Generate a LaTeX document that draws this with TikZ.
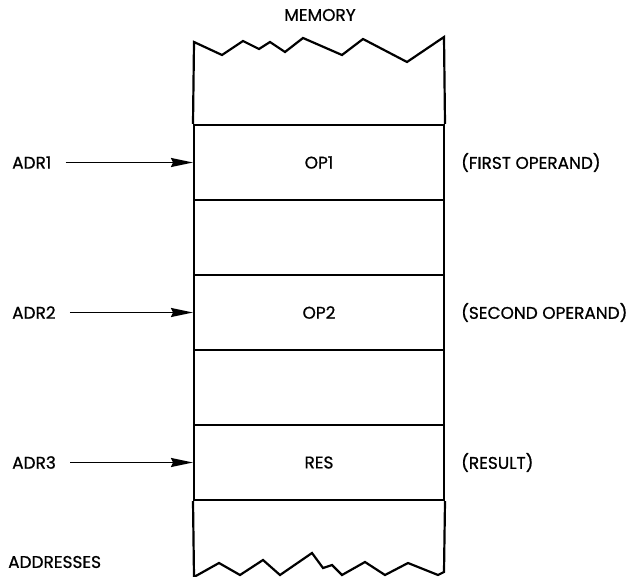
\documentclass[tikz,border=0pt]{standalone}
\usepackage{fontspec}
\setmainfont{Poppins}[FakeBold=0.8]
\usetikzlibrary{arrows.meta,positioning}

\tikzset{
  cell/.style={draw,line width=2bp,minimum width=250bp,minimum height=75bp,inner sep=0pt},
  lbl/.style={font=\fontsize{17}{20}\selectfont,inner sep=0pt},
  ptr/.style={line width=1.8bp,shorten <=14bp,-{Stealth[length=22bp,width=9bp,inset=2bp]}},
  edge/.style={line width=2.2bp,line join=miter}
}

\begin{document}
\begin{tikzpicture}[x=1bp,y=-1bp]
  \useasboundingbox (0,0) rectangle (639,577);
  % memory cells
  \node[cell,lbl] (op1) at (319,162.5) {OP1};
  \node[cell] (gap1) at (319,237.5) {};
  \node[cell,lbl] (op2) at (319,312.5) {OP2};
  \node[cell] (gap2) at (319,387.5) {};
  \node[cell,lbl] (res) at (319,462.5) {RES};

  % torn top and bottom
  \draw[edge] (op1.north west) -- (194,42) -- (222,55) -- (243,41) -- (259,49)
     -- (270,42) -- (285,52) -- (303,38) -- (342,55) -- (363,39) -- (407,62)
     -- (444,37) -- (op1.north east);
  \draw[edge] (res.south west) -- (194,577) -- (219,563) -- (240,575) -- (263,560)
     -- (280,575) -- (312,553) -- (323,568) -- (332,565) -- (342,575) -- (365,562)
     -- (385,575) -- (408,563) -- (438,575) -- (444,572) -- (res.south east);

  \node[lbl] (mem) at (320,15) {MEMORY};

  % addresses
  \node[lbl,anchor=west] (adr1) at (12,162.5) {ADR1};
  \node[lbl,anchor=west] (adr2) at (12,312.5) {ADR2};
  \node[lbl,anchor=west] (adr3) at (12,462.5) {ADR3};
  \node[lbl,anchor=west] (addr) at (8,562) {ADDRESSES};

  \draw[ptr] (adr1) -- (op1);
  \draw[ptr] (adr2) -- (op2);
  \draw[ptr] (adr3) -- (res);

  % comments
  \node[lbl,anchor=west] (c1) at (461,162.5) {(FIRST OPERAND)};
  \node[lbl,anchor=west] (c2) at (461,312.5) {(SECOND OPERAND)};
  \node[lbl,anchor=west] (c3) at (461,462.5) {(RESULT)};
\end{tikzpicture}
\end{document}
